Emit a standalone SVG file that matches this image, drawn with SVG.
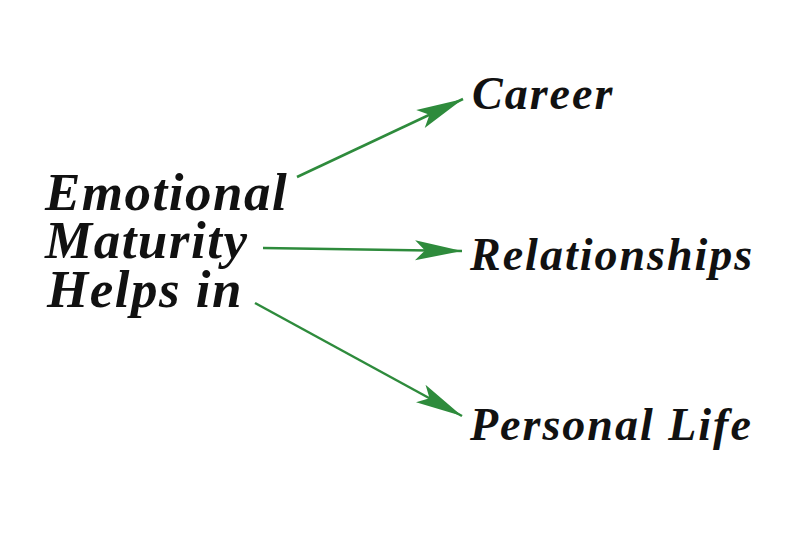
<svg xmlns="http://www.w3.org/2000/svg" width="800" height="540" viewBox="0 0 800 540">
<defs>
<style>
.t{font-family:"Liberation Serif","Times New Roman",serif;font-style:italic;font-weight:bold;fill:#111;}
.big{font-size:53px;letter-spacing:1.5px;}
.sm{font-size:46px;letter-spacing:2px;}
.arr{stroke:#2e8b3c;stroke-width:2.5;fill:none;marker-end:url(#ah);}
</style>
<marker id="ah" markerUnits="userSpaceOnUse" markerWidth="48" markerHeight="22" viewBox="0 0 48 22" refX="47" refY="11" orient="auto">
<path d="M0,1 L47,11 L0,21 L10,11 Z" fill="#2e8b3c"/>
</marker>
</defs>
<rect width="800" height="540" fill="#fff"/>
<g id="connectors">
<path class="arr" d="M297,177 L463,99"/>
<path class="arr" d="M263,248 L462,251"/>
<path class="arr" d="M255,303 L462,416"/>
</g>
<g id="source">
<text class="t big" x="45" y="210">Emotional</text>
<text class="t big" x="45" y="258">Maturity</text>
<text class="t big" x="47" y="307">Helps in</text>
</g>
<g id="career"><text class="t sm" x="472" y="109">Career</text></g>
<g id="relationships"><text class="t sm" x="470" y="270">Relationships</text></g>
<g id="personal"><text class="t sm" x="470" y="440">Personal Life</text></g>
</svg>
